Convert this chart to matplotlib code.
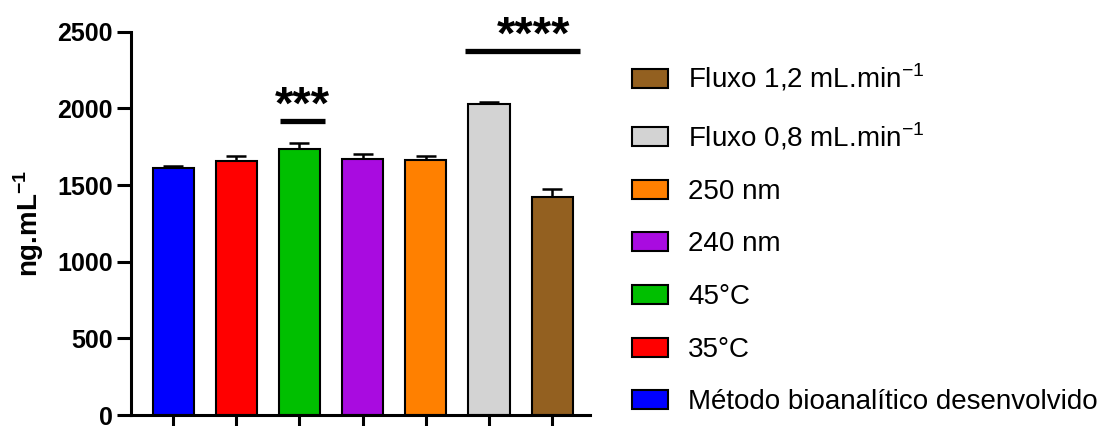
import matplotlib
matplotlib.use("Agg")
import matplotlib.pyplot as plt
from matplotlib.patches import Patch

plt.rcParams['font.family'] = ['Liberation Sans', 'DejaVu Sans']
plt.rcParams['mathtext.fontset'] = 'custom'
plt.rcParams['mathtext.rm'] = 'Liberation Sans'
plt.rcParams['mathtext.bf'] = 'Liberation Sans:bold'

grupos = ["Método bioanalítico desenvolvido", "35°C", "45°C", "240 nm", "250 nm",
          "Fluxo 0,8 mL.min$^{-1}$", "Fluxo 1,2 mL.min$^{-1}$"]
medias = [1612, 1654, 1734, 1669, 1662, 2029, 1419]
erros = [13, 36, 41, 32, 28, 13, 54]
cores = ["#0000FF", "#FF0000", "#00BF00", "#A90BE0", "#FF8000", "#D3D3D3", "#936020"]

fig = plt.figure(figsize=(11.06, 4.26), dpi=100)
ax = fig.add_axes([0.1184, 0.0258, 0.4151, 0.8998])

x = list(range(len(medias)))
ax.bar(x, medias, width=0.65, color=cores, edgecolor="black", linewidth=1.5, zorder=2)
ax.errorbar(x, medias, yerr=[[0] * len(erros), erros], fmt="none", ecolor="black",
            elinewidth=1.8, capsize=7.5, capthick=1.8, zorder=1)

ax.set_xlim(-0.667, 6.6)
ax.set_ylim(0, 2500)
ax.set_yticks([0, 500, 1000, 1500, 2000, 2500])
ax.set_xticks(x)
ax.set_xticklabels([])
for lab in ax.get_yticklabels():
    lab.set_fontweight('bold')
    lab.set_fontsize(18)
ax.tick_params(axis='y', length=10, width=2.2, pad=3)
ax.tick_params(axis='x', length=9, width=2.2)
for s in ['top', 'right']:
    ax.spines[s].set_visible(False)
for s in ['left', 'bottom']:
    ax.spines[s].set_linewidth(2.2)

ax.set_ylabel("ng.mL$^{\\mathbf{-1}}$", fontsize=20, fontweight='bold', labelpad=8)

# significance bars
ax.plot([1.70, 2.41], [1916, 1916], color="black", lw=3.8, clip_on=False, solid_capstyle='butt')
ax.text(2.05, 2010, "***", ha='center', va='center', fontsize=34, fontweight='bold')
ax.plot([4.62, 6.44], [2375, 2375], color="black", lw=3.8, clip_on=False, solid_capstyle='butt')
ax.text(5.70, 2470, "****", ha='center', va='center', fontsize=34, fontweight='bold', clip_on=False)

handles = [Patch(facecolor=c, edgecolor="black", linewidth=1.5) for c in cores][::-1]
leg = fig.legend(handles, grupos[::-1], loc='upper left', bbox_to_anchor=(0.549, 0.912),
                 frameon=False, fontsize=20, handlelength=1.3, handleheight=0.68,
                 handletextpad=0.72, labelspacing=0.96)

fig.savefig("out.png", dpi=100)
